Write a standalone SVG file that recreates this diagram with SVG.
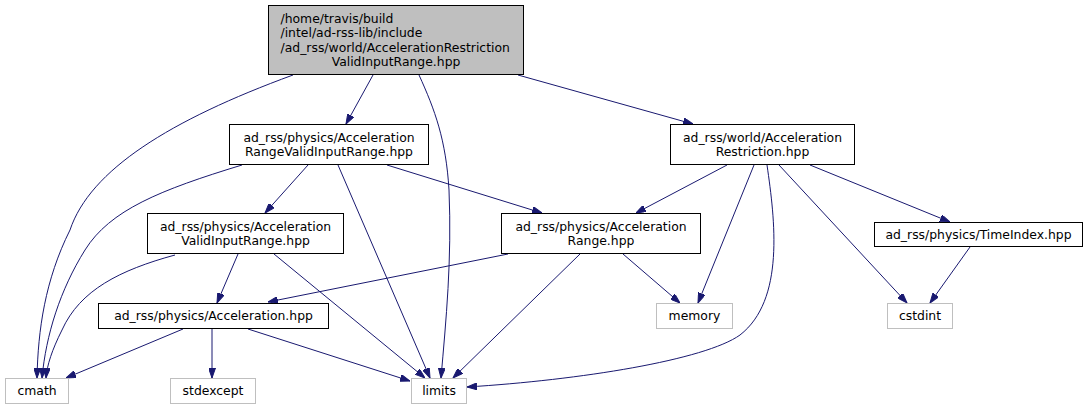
<svg xmlns="http://www.w3.org/2000/svg" width="1092" height="409" viewBox="0 0 1092 409">
<style>
text{font-family:"DejaVu Sans","Liberation Sans",sans-serif;font-size:12.4px;fill:#000}
.c{text-anchor:middle}
.n{fill:#fff;stroke:#000;stroke-width:1}
.root{fill:#bfbfbf;stroke:#000;stroke-width:1}
.x{fill:#fff;stroke:#bfbfbf;stroke-width:1}
.e{fill:none;stroke:#191970;stroke-width:1;marker-end:url(#a)}
</style>
<defs>
<marker id="a" viewBox="0 0 10 7" refX="10" refY="3.5" markerWidth="10" markerHeight="7" markerUnits="userSpaceOnUse" orient="auto">
<path d="M0,0 L10,3.5 L0,7 z" fill="#191970" stroke="#191970"/>
</marker>
</defs>
<g id="edges">
<path class="e" d="M293,75 C170,120 90,170 70,230 C45,280 38,330 37,378"/>
<path class="e" d="M242,165 C160,190 110,210 85,250 C60,290 46,335 42,378"/>
<path class="e" d="M175,255 C120,270 80,290 62,330 C52,350 47,365 46,378"/>
<path class="e" d="M183,329 L66,378"/>
<path class="e" d="M212,329 L212,378"/>
<path class="e" d="M248,329 L410,381"/>
<path class="e" d="M373,75 L346,124"/>
<path class="e" d="M419,75 C435,110 446,140 449,190 C452,260 446,320 441,378"/>
<path class="e" d="M518,75 L693,124"/>
<path class="e" d="M308,165 L265,213"/>
<path class="e" d="M338,165 L430,378"/>
<path class="e" d="M387,165 L542,213"/>
<path class="e" d="M727,165 L636,213"/>
<path class="e" d="M754,165 L698,303"/>
<path class="e" d="M767,165 C775,220 785,300 740,335 C705,360 580,380 467,387"/>
<path class="e" d="M779,165 L907,303"/>
<path class="e" d="M810,165 L950,222"/>
<path class="e" d="M970,247 L930,303"/>
<path class="e" d="M238,254 L217,303"/>
<path class="e" d="M274,254 L425,378"/>
<path class="e" d="M508,254 L268,302"/>
<path class="e" d="M623,254 L680,303"/>
<path class="e" d="M580,254 L453,378"/>
</g>
<g id="root">
<rect class="root" x="268.5" y="5.5" width="255" height="69"/>
<text x="280.5" y="22.5">/home/travis/build</text>
<text x="280.5" y="37">/intel/ad-rss-lib/include</text>
<text x="280.5" y="51.5">/ad_rss/world/AccelerationRestriction</text>
<text class="c" x="396" y="66">ValidInputRange.hpp</text>
</g>
<g id="rvir">
<rect class="n" x="229.5" y="124.5" width="199" height="40"/>
<text class="c" x="329" y="141.5">ad_rss/physics/Acceleration</text>
<text class="c" x="329" y="155.5">RangeValidInputRange.hpp</text>
</g>
<g id="restriction">
<rect class="n" x="670.5" y="124.5" width="184" height="40"/>
<text class="c" x="762.5" y="141.5">ad_rss/world/Acceleration</text>
<text class="c" x="762.5" y="155.5">Restriction.hpp</text>
</g>
<g id="vir">
<rect class="n" x="147.5" y="213.5" width="196" height="40"/>
<text class="c" x="245.5" y="230.5">ad_rss/physics/Acceleration</text>
<text class="c" x="245.5" y="244.5">ValidInputRange.hpp</text>
</g>
<g id="range">
<rect class="n" x="501.5" y="213.5" width="199" height="40"/>
<text class="c" x="601" y="230.5">ad_rss/physics/Acceleration</text>
<text class="c" x="601" y="244.5">Range.hpp</text>
</g>
<g id="timeindex">
<rect class="n" x="874.5" y="222.5" width="208" height="24"/>
<text class="c" x="978.5" y="238.5">ad_rss/physics/TimeIndex.hpp</text>
</g>
<g id="accel">
<rect class="n" x="98.5" y="303.5" width="230" height="25"/>
<text class="c" x="213.5" y="320">ad_rss/physics/Acceleration.hpp</text>
</g>
<g id="memory">
<rect class="x" x="656.5" y="303.5" width="76" height="25"/>
<text class="c" x="694.5" y="320">memory</text>
</g>
<g id="cstdint">
<rect class="x" x="887.5" y="303.5" width="65" height="25"/>
<text class="c" x="920" y="320">cstdint</text>
</g>
<g id="cmath">
<rect class="x" x="5.5" y="378.5" width="63" height="25"/>
<text class="c" x="37" y="395">cmath</text>
</g>
<g id="stdexcept">
<rect class="x" x="170.5" y="378.5" width="85" height="25"/>
<text class="c" x="213" y="395">stdexcept</text>
</g>
<g id="limits">
<rect class="x" x="411.5" y="378.5" width="55" height="25"/>
<text class="c" x="439" y="395">limits</text>
</g>
</svg>
